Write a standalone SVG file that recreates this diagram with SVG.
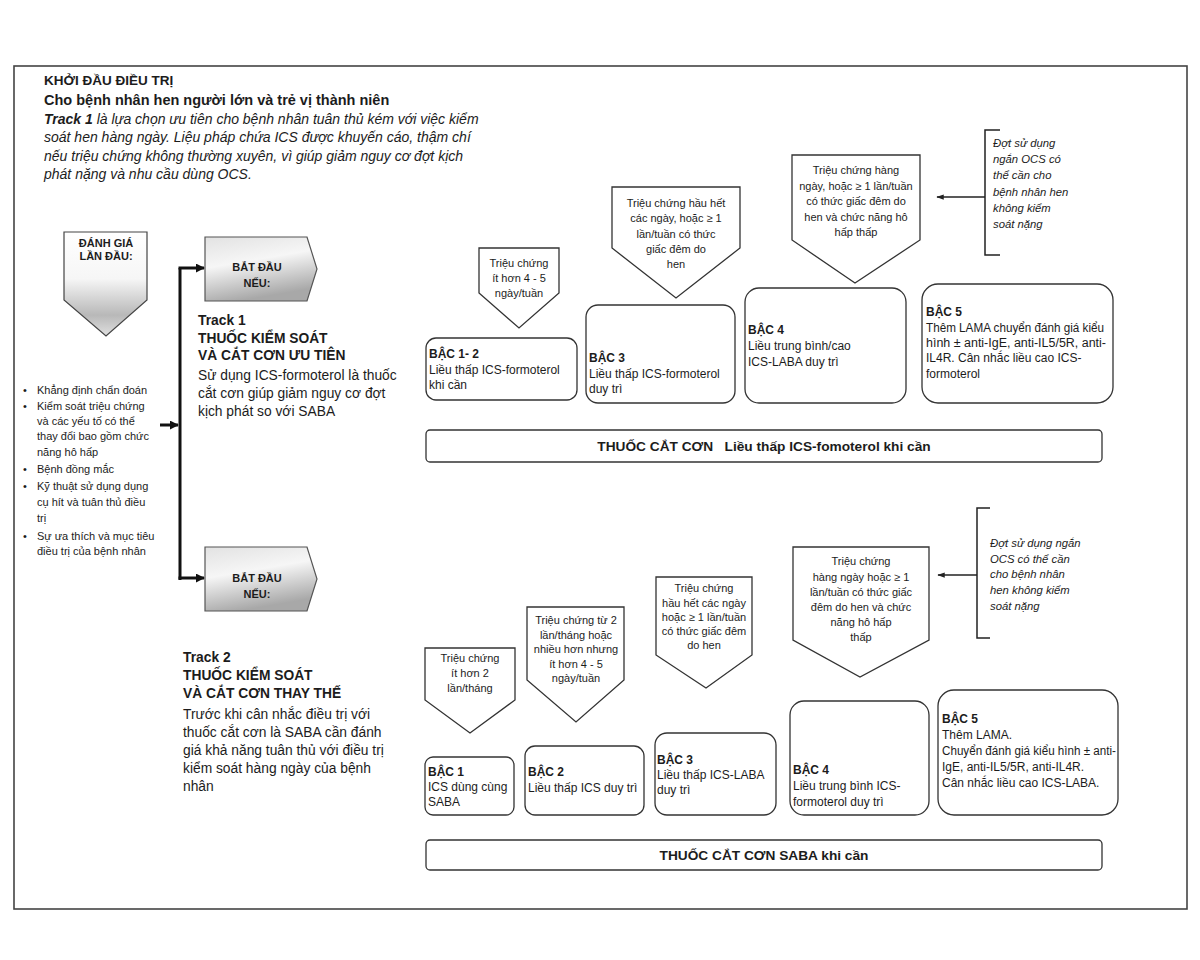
<svg xmlns="http://www.w3.org/2000/svg" width="1200" height="960" viewBox="0 0 1200 960">
<style>
.t{font-family:"Liberation Sans",Arial,Helvetica,sans-serif;fill:#1c1c1c}
.b{font-weight:bold}
.i{font-style:italic}
.hd{font-size:14px}
.bl{font-size:11px}
.tr{font-size:13.8px}
.bub{font-size:11px;text-anchor:middle}
.bx{font-size:12px}
.bar{font-size:13.7px;font-weight:bold;text-anchor:middle}
.note{font-size:11.3px;font-style:italic}
.shape{fill:#fff;stroke:#333;stroke-width:1.3}
.con{fill:none;stroke:#111;stroke-width:3}
.thin{fill:none;stroke:#222;stroke-width:1.5}
</style>
<defs>
<linearGradient id="gAssess" x1="0" y1="0" x2="0" y2="1">
<stop offset="0" stop-color="#ffffff"/>
<stop offset="0.45" stop-color="#f6f6f6"/>
<stop offset="0.8" stop-color="#b8b8b8"/>
<stop offset="1" stop-color="#e0e0e0"/>
</linearGradient>
<linearGradient id="gStart" x1="0" y1="0" x2="0.3" y2="1">
<stop offset="0" stop-color="#e2e2e2"/>
<stop offset="0.45" stop-color="#f6f6f6"/>
<stop offset="1" stop-color="#a8a8a8"/>
</linearGradient>
<marker id="ah" viewBox="0 0 10 10" refX="9" refY="5" markerWidth="3" markerHeight="3" orient="auto">
<path d="M0,0 L10,5 L0,10 z" fill="#111"/>
</marker>
<marker id="ahs" viewBox="0 0 10 10" refX="9" refY="5" markerWidth="5" markerHeight="5" orient="auto">
<path d="M0,1.5 L10,5 L0,8.5 z" fill="#222"/>
</marker>
</defs>
<rect width="1200" height="960" fill="#ffffff"/>
<rect x="14" y="66" width="1173" height="843" fill="none" stroke="#444" stroke-width="1.6"/>

<g id="header" class="t">
<text x="44" y="85" class="b" font-size="13.5">KHỞI ĐẦU ĐIỀU TRỊ</text>
<text x="44" y="105" class="b" font-size="14.5">Cho bệnh nhân hen người lớn và trẻ vị thành niên</text>
<text x="44" y="124" class="i hd"><tspan font-weight="bold">Track 1</tspan> là lựa chọn ưu tiên cho bệnh nhân tuân thủ kém với việc kiểm</text>
<text x="44" y="142" class="i hd">soát hen hàng ngày. Liệu pháp chứa ICS được khuyến cáo, thậm chí</text>
<text x="44" y="161" class="i hd">nếu triệu chứng không thường xuyên, vì giúp giảm nguy cơ đợt kịch</text>
<text x="44" y="179" class="i hd">phát nặng và nhu cầu dùng OCS.</text>
</g>

<g id="assessment">
<path d="M64,232 H147 V300 L106,336 L64,300 Z" fill="url(#gAssess)" stroke="#444" stroke-width="1.2"/>
<text x="106" y="247" class="t b bub" font-size="9.5px">ĐÁNH GIÁ</text>
<text x="106" y="260" class="t b bub" font-size="9.5px">LẦN ĐẦU:</text>
</g>

<g id="assessment-list" class="t bl">
<text x="23" y="394">•</text><text x="37" y="394">Khẳng định chẩn đoán</text>
<text x="23" y="410">•</text><text x="37" y="410">Kiểm soát triệu chứng</text>
<text x="37" y="425">và các yếu tố có thể</text>
<text x="37" y="440">thay đổi bao gồm chức</text>
<text x="37" y="456">năng hô hấp</text>
<text x="23" y="473">•</text><text x="37" y="473">Bệnh đồng mắc</text>
<text x="23" y="490">•</text><text x="37" y="490">Kỹ thuật sử dụng dụng</text>
<text x="37" y="506">cụ hít và tuân thủ điều</text>
<text x="37" y="522">trị</text>
<text x="23" y="540">•</text><text x="37" y="540">Sự ưa thích và mục tiêu</text>
<text x="37" y="555">điều trị của bệnh nhân</text>
</g>

<g id="start-1">
<path d="M205,237 H307 L317,269 L307,301 H205 Z" fill="url(#gStart)" stroke="#555" stroke-width="1.2"/>
<text x="257" y="271" class="t b bub" font-size="11.5px">BẮT ĐẦU</text>
<text x="257" y="287" class="t b bub" font-size="11.5px">NẾU:</text>
</g>

<g id="track1-text" class="t tr">
<text x="198" y="325" class="b">Track 1</text>
<text x="198" y="343" class="b">THUỐC KIỂM SOÁT</text>
<text x="198" y="360" class="b">VÀ CẮT CƠN ƯU TIÊN</text>
<text x="198" y="380">Sử dụng ICS-formoterol là thuốc</text>
<text x="198" y="398">cắt cơn giúp giảm nguy cơ đợt</text>
<text x="198" y="416">kịch phát so với SABA</text>
</g>

<g id="start-2">
<path d="M205,547 H307 L317,579 L307,611 H205 Z" fill="url(#gStart)" stroke="#555" stroke-width="1.2"/>
<text x="257" y="582" class="t b bub" font-size="11.5px">BẮT ĐẦU</text>
<text x="257" y="598" class="t b bub" font-size="11.5px">NẾU:</text>
</g>

<g id="track2-text" class="t tr">
<text x="183" y="662" class="b">Track 2</text>
<text x="183" y="680" class="b">THUỐC KIỂM SOÁT</text>
<text x="183" y="698" class="b">VÀ CẮT CƠN THAY THẾ</text>
<text x="183" y="719">Trước khi cân nhắc điều trị với</text>
<text x="183" y="737">thuốc cắt cơn là SABA cần đánh</text>
<text x="183" y="755">giá khả năng tuân thủ với điều trị</text>
<text x="183" y="773">kiểm soát hàng ngày của bệnh</text>
<text x="183" y="791">nhân</text>
</g>

<g id="t1-sym-12">
<path class="shape" d="M479,248 H559 V293 L519,328 L479,293 Z"/>
<text class="t bub" x="519" y="267">Triệu chứng</text>
<text class="t bub" x="519" y="282">ít hơn 4 - 5</text>
<text class="t bub" x="519" y="297">ngày/tuần</text>
</g>
<g id="t1-sym-3">
<path class="shape" d="M612,187 H740 V248 L676,298 L612,248 Z"/>
<text class="t bub" x="676" y="207">Triệu chứng hầu hết</text>
<text class="t bub" x="676" y="222">các ngày, hoặc ≥ 1</text>
<text class="t bub" x="676" y="238">lần/tuần có thức</text>
<text class="t bub" x="676" y="253">giấc đêm do</text>
<text class="t bub" x="676" y="268">hen</text>
</g>
<g id="t1-sym-4">
<path class="shape" d="M792,155 H920 V240 L855,283 L792,240 Z"/>
<text class="t bub" x="856" y="174">Triệu chứng hàng</text>
<text class="t bub" x="856" y="190">ngày, hoặc ≥ 1 lần/tuần</text>
<text class="t bub" x="856" y="205">có thức giấc đêm do</text>
<text class="t bub" x="856" y="221">hen và chức năng hô</text>
<text class="t bub" x="856" y="236">hấp thấp</text>
</g>
<g id="t1-note">
<path class="thin" d="M1000,130 H985 V255 H1000"/>
<text class="t note" x="993" y="147">Đợt sử dụng</text>
<text class="t note" x="993" y="163">ngắn OCS có</text>
<text class="t note" x="993" y="179">thể cần cho</text>
<text class="t note" x="993" y="196">bệnh nhân hen</text>
<text class="t note" x="993" y="212">không kiểm</text>
<text class="t note" x="993" y="228">soát nặng</text>
</g>

<g id="t1-step-12">
<rect class="shape" x="426" y="338" width="151" height="62" rx="10"/>
<text class="t bx b" x="429" y="358">BẬC 1- 2</text>
<text class="t bx" x="429" y="374">Liều thấp ICS-formoterol</text>
<text class="t bx" x="429" y="389">khi cần</text>
</g>
<g id="t1-step-3">
<rect class="shape" x="586" y="305" width="149" height="98" rx="12"/>
<text class="t bx b" x="589" y="362">BẬC 3</text>
<text class="t bx" x="589" y="378">Liều thấp ICS-formoterol</text>
<text class="t bx" x="589" y="393">duy trì</text>
</g>
<g id="t1-step-4">
<rect class="shape" x="745" y="288" width="161" height="115" rx="14"/>
<text class="t bx b" x="748" y="334">BẬC 4</text>
<text class="t bx" x="748" y="350">Liều trung bình/cao</text>
<text class="t bx" x="748" y="366">ICS-LABA duy trì</text>
</g>
<g id="t1-step-5">
<rect class="shape" x="922" y="284" width="191" height="119" rx="16"/>
<text class="t bx b" x="926" y="316">BẬC 5</text>
<text class="t bx" x="926" y="332" textLength="178" lengthAdjust="spacingAndGlyphs">Thêm LAMA chuyển đánh giá kiểu</text>
<text class="t bx" x="926" y="347" textLength="180" lengthAdjust="spacingAndGlyphs">hình ± anti-IgE, anti-IL5/5R, anti-</text>
<text class="t bx" x="926" y="362">IL4R. Cân nhắc liều cao ICS-</text>
<text class="t bx" x="926" y="378">formoterol</text>
</g>
<g id="t1-reliever">
<rect class="shape" x="426" y="430" width="676" height="32" rx="4"/>
<text class="t bar" x="764" y="451" xml:space="preserve">THUỐC CẮT CƠN   Liều thấp ICS-fomoterol khi cần</text>
</g>

<g id="t2-sym-1">
<path class="shape" d="M425,648 H515 V700 L470,733 L425,700 Z"/>
<text class="t bub" x="470" y="662">Triệu chứng</text>
<text class="t bub" x="470" y="677">ít hơn 2</text>
<text class="t bub" x="470" y="692">lần/tháng</text>
</g>
<g id="t2-sym-2">
<path class="shape" d="M527,607 H624 V680 L576,722 L527,680 Z"/>
<text class="t bub" x="576" y="624">Triệu chứng từ 2</text>
<text class="t bub" x="576" y="639">lần/tháng hoặc</text>
<text class="t bub" x="576" y="653">nhiều hơn nhưng</text>
<text class="t bub" x="576" y="668">ít hơn 4 - 5</text>
<text class="t bub" x="576" y="682">ngày/tuần</text>
</g>
<g id="t2-sym-3">
<path class="shape" d="M656,577 H752 V655 L706,688 L656,655 Z"/>
<text class="t bub" x="704" y="592">Triệu chứng</text>
<text class="t bub" x="704" y="607">hầu hết các ngày</text>
<text class="t bub" x="704" y="621">hoặc ≥ 1 lần/tuần</text>
<text class="t bub" x="704" y="635">có thức giấc đêm</text>
<text class="t bub" x="704" y="649">do hen</text>
</g>
<g id="t2-sym-4">
<path class="shape" d="M793,547 H929 V640 L860,677 L793,640 Z"/>
<text class="t bub" x="861" y="565">Triệu chứng</text>
<text class="t bub" x="861" y="581">hàng ngày hoặc ≥ 1</text>
<text class="t bub" x="861" y="596">lần/tuần có thức giấc</text>
<text class="t bub" x="861" y="611">đêm do hen và chức</text>
<text class="t bub" x="861" y="626">năng hô hấp</text>
<text class="t bub" x="861" y="641">thấp</text>
</g>
<g id="t2-note">
<path class="thin" d="M990,508 H977 V638 H990"/>
<text class="t note" x="990" y="547">Đợt sử dụng ngắn</text>
<text class="t note" x="990" y="563">OCS có thể cần</text>
<text class="t note" x="990" y="578">cho bệnh nhân</text>
<text class="t note" x="990" y="594">hen không kiểm</text>
<text class="t note" x="990" y="610">soát nặng</text>
</g>

<g id="t2-step-1">
<rect class="shape" x="425" y="757" width="89" height="58" rx="8"/>
<text class="t bx b" x="428" y="776">BẬC 1</text>
<text class="t bx" x="428" y="791">ICS dùng cùng</text>
<text class="t bx" x="428" y="806">SABA</text>
</g>
<g id="t2-step-2">
<rect class="shape" x="525" y="746" width="119" height="69" rx="10"/>
<text class="t bx b" x="528" y="776">BẬC 2</text>
<text class="t bx" x="528" y="792">Liều thấp ICS duy trì</text>
</g>
<g id="t2-step-3">
<rect class="shape" x="655" y="733" width="121" height="82" rx="12"/>
<text class="t bx b" x="657" y="764">BẬC 3</text>
<text class="t bx" x="657" y="779">Liều thấp ICS-LABA</text>
<text class="t bx" x="657" y="794">duy trì</text>
</g>
<g id="t2-step-4">
<rect class="shape" x="790" y="701" width="139" height="114" rx="14"/>
<text class="t bx b" x="793" y="774">BẬC 4</text>
<text class="t bx" x="793" y="790">Liều trung bình ICS-</text>
<text class="t bx" x="793" y="806">formoterol duy trì</text>
</g>
<g id="t2-step-5">
<rect class="shape" x="938" y="690" width="180" height="125" rx="16"/>
<text class="t bx b" x="942" y="723">BẬC 5</text>
<text class="t bx" x="942" y="739">Thêm LAMA.</text>
<text class="t bx" x="942" y="755" textLength="174" lengthAdjust="spacingAndGlyphs">Chuyển đánh giá kiểu hình ± anti-</text>
<text class="t bx" x="942" y="771">IgE, anti-IL5/5R, anti-IL4R.</text>
<text class="t bx" x="942" y="787">Cân nhắc liều cao ICS-LABA.</text>
</g>
<g id="t2-reliever">
<rect class="shape" x="426" y="840" width="676" height="30" rx="4"/>
<text class="t bar" x="764" y="860">THUỐC CẮT CƠN SABA khi cần</text>
</g>

<g id="connectors">
<line class="con" x1="160" y1="425" x2="178" y2="425" marker-end="url(#ah)"/>
<path class="con" d="M180,268 V580"/>
<path class="con" d="M178.5,268 H204" marker-end="url(#ah)"/>
<path class="con" d="M178.5,578 H204" marker-end="url(#ah)"/>
<line class="thin" x1="985" y1="197" x2="937" y2="197" marker-end="url(#ahs)"/>
<line class="thin" x1="977" y1="575" x2="938" y2="575" marker-end="url(#ahs)"/>
</g>
</svg>
